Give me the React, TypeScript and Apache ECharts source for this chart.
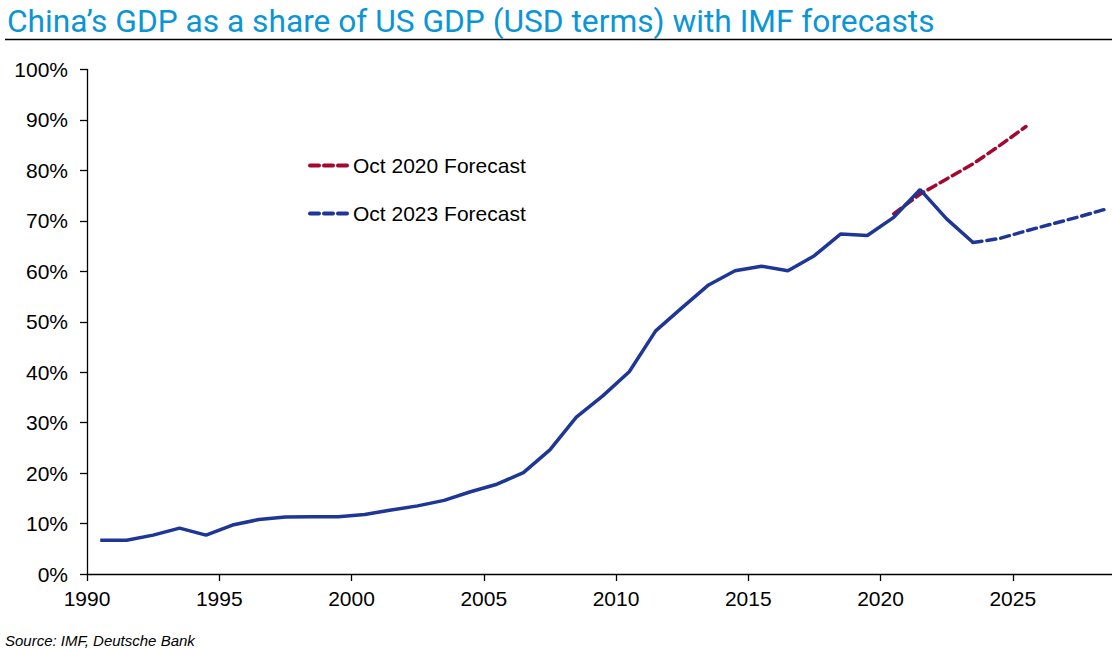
import React, { useEffect, useRef } from "react";
import * as echarts from "echarts";

const actualYears = [1990,1991,1992,1993,1994,1995,1996,1997,1998,1999,2000,2001,2002,2003,2004,2005,2006,2007,2008,2009,2010,2011,2012,2013,2014,2015,2016,2017,2018,2019,2020,2021,2022,2023];
const actualValues = [6.7,6.7,7.7,9.1,7.7,9.7,10.8,11.3,11.35,11.35,11.8,12.7,13.5,14.6,16.3,17.8,20.1,24.6,31.1,35.3,40.1,48.2,52.8,57.3,60.1,61.0,60.1,63.1,67.4,67.1,70.7,76.2,70.4,65.7];

const forecast2020Years = [2020,2021,2022,2023,2024,2025];
const forecast2020Values = [71.4,75.3,78.3,81.3,84.9,88.7];

const forecast2023Years = [2023,2024,2025,2026,2027,2028];
const forecast2023Values = [65.7,66.5,68.0,69.4,70.8,72.3];

const lastLabelYear = 2025;

const TITLE = "China\u2019s GDP as a share of US GDP (USD terms) with IMF forecasts";
const SOURCE = "Source: IMF, Deutsche Bank";

const toPoints = (years: number[], vals: number[]) => years.map((y, i) => [y + 0.5, vals[i]]);

export default function App() {
  const ref = useRef<HTMLDivElement>(null);
  useEffect(() => {
    if (!ref.current) return;
    const chart = echarts.init(ref.current, undefined, { renderer: "svg" });
    const blue = "#1e3796";
    const red = "#a3082f";
    const labelFont = "'Liberation Sans', Arial, sans-serif";
    chart.setOption({
      animation: false,
      title: {
        text: TITLE,
        left: 2,
        top: 0,
        textStyle: { fontFamily: "Roboto", fontSize: 31.7, fontWeight: "normal", color: "#0a96d6" },
      },
      graphic: [
        { type: "line", shape: { x1: 5, y1: 39.5, x2: 1112, y2: 39.5 }, style: { stroke: "#000", lineWidth: 1.5 } },
        { type: "text", left: 5, top: 633, style: { text: SOURCE, fontFamily: labelFont, fontStyle: "italic", fontSize: 15, fill: "#000" } },
      ],
      legend: {
        orient: "vertical",
        left: 303,
        top: 150,
        itemGap: 27,
        itemWidth: 38,
        itemHeight: 10,
        data: ["Oct 2020 Forecast", "Oct 2023 Forecast"],
        itemStyle: { opacity: 0 },
        lineStyle: { width: 4, type: [9, 5], cap: "round" },
        textStyle: { fontFamily: labelFont, fontSize: 21, color: "#000" },
      },
      grid: { left: 87, right: -33, top: 69.5, bottom: 75, outerBoundsMode: "none", containLabel: false },
      xAxis: {
        type: "value",
        min: 1990,
        max: 2030,
        interval: 5,
        axisLine: { lineStyle: { color: "#000", width: 1.3 } },
        axisTick: { show: true, length: 7, lineStyle: { color: "#000", width: 1.3 } },
        axisLabel: {
          margin: 14,
          fontFamily: labelFont,
          fontSize: 21,
          color: "#000",
          showMaxLabel: false,
          formatter: (v: number) => (v <= lastLabelYear ? String(v) : ""),
        },
        splitLine: { show: false },
      },
      yAxis: {
        type: "value",
        min: 0,
        max: 100,
        interval: 10,
        axisLine: { show: true, lineStyle: { color: "#000", width: 1.3 } },
        axisTick: { show: true, length: 7, lineStyle: { color: "#000", width: 1.3 } },
        axisLabel: { margin: 19, fontFamily: labelFont, fontSize: 21, color: "#000", formatter: "{value}%" },
        splitLine: { show: false },
      },
      series: [
        {
          name: "Actual",
          type: "line",
          data: toPoints(actualYears, actualValues),
          symbol: "none",
          lineStyle: { color: blue, width: 3.5 },
          itemStyle: { color: blue },
          z: 3,
        },
        {
          name: "Oct 2020 Forecast",
          type: "line",
          data: toPoints(forecast2020Years, forecast2020Values),
          symbol: "none",
          lineStyle: { color: red, width: 3.5, type: [9, 5], cap: "round" },
          itemStyle: { color: red },
          z: 2,
        },
        {
          name: "Oct 2023 Forecast",
          type: "line",
          data: toPoints(forecast2023Years, forecast2023Values),
          symbol: "none",
          lineStyle: { color: blue, width: 3.5, type: [9, 5], cap: "round" },
          itemStyle: { color: blue },
          z: 2,
        },
      ],
    });
    return () => chart.dispose();
  }, []);
  return <div ref={ref} style={{ position: "absolute", left: 0, top: 0, width: 1112, height: 649 }} />;
}
